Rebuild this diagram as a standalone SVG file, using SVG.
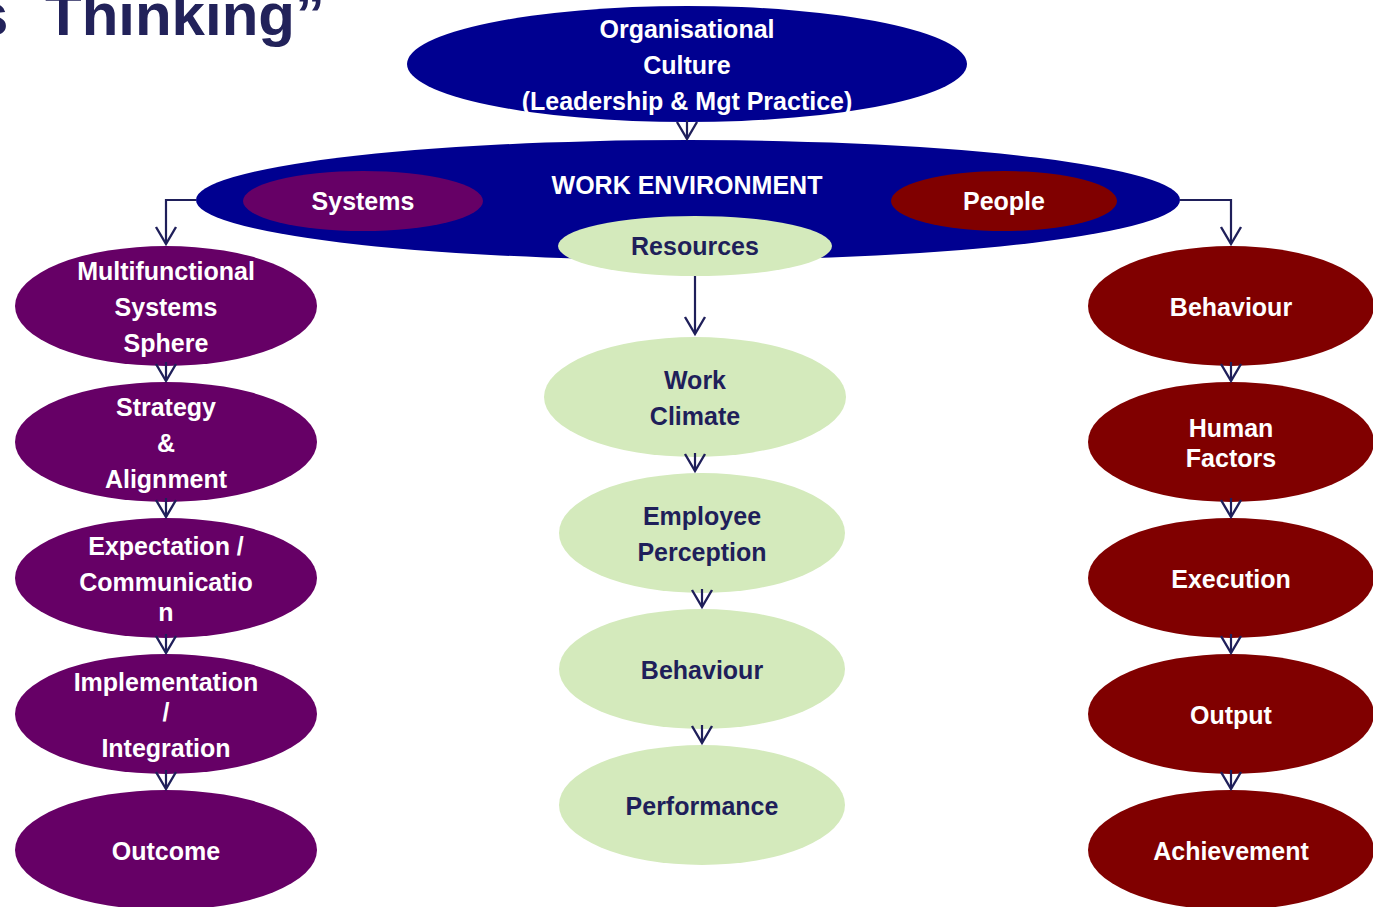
<svg xmlns="http://www.w3.org/2000/svg" width="1373" height="907" viewBox="0 0 1373 907">
<style>
text{font-family:"Liberation Sans",Arial,sans-serif;font-weight:bold;font-size:25px;text-anchor:middle}
.w{fill:#ffffff}
.d{fill:#1f1f5a}
.blue{fill:#000090}
.pur{fill:#660066}
.red{fill:#800000}
.grn{fill:#d4eabc}
.c{fill:none;stroke:#1f1f5a;stroke-width:2.2}
</style>
<defs>
<marker id="v" markerUnits="userSpaceOnUse" markerWidth="40" markerHeight="40" refX="0" refY="0" viewBox="-20 -20 40 40" orient="auto" overflow="visible">
<path d="M-17,-10 L0,0 L-17,10" fill="none" stroke="#1f1f5a" stroke-width="2.4"/>
</marker>
</defs>
<rect width="1373" height="907" fill="#ffffff"/>
<text x="0" y="35" style="font-size:60px;text-anchor:start;fill:#22225a"><tspan x="-25">s</tspan><tspan x="45">Thinking”</tspan></text>

<g id="culture">
<ellipse class="blue" cx="687" cy="64" rx="280" ry="58"/>
<text class="w" x="687" y="38">Organisational</text>
<text class="w" x="687" y="74">Culture</text>
<text class="w" x="687" y="110">(Leadership &amp; Mgt Practice)</text>
</g>
<g id="work-environment">
<ellipse class="blue" cx="688" cy="200" rx="492" ry="60"/>
<text class="w" x="687" y="194">WORK ENVIRONMENT</text>
</g>
<g id="systems">
<ellipse class="pur" cx="363" cy="201" rx="120" ry="30"/>
<text class="w" x="363" y="210">Systems</text>
</g>
<g id="people">
<ellipse class="red" cx="1004" cy="201" rx="113" ry="30"/>
<text class="w" x="1004" y="210">People</text>
</g>
<g id="resources">
<ellipse class="grn" cx="695" cy="246" rx="137" ry="30"/>
<text class="d" x="695" y="255">Resources</text>
</g>

<g id="multifunctional">
<ellipse class="pur" cx="166" cy="306" rx="151" ry="60"/>
<text class="w" x="166" y="280">Multifunctional</text>
<text class="w" x="166" y="316">Systems</text>
<text class="w" x="166" y="352">Sphere</text>
</g>
<g id="strategy">
<ellipse class="pur" cx="166" cy="442" rx="151" ry="60"/>
<text class="w" x="166" y="416">Strategy</text>
<text class="w" x="166" y="452">&amp;</text>
<text class="w" x="166" y="488">Alignment</text>
</g>
<g id="expectation">
<ellipse class="pur" cx="166" cy="578" rx="151" ry="60"/>
<text class="w" x="166" y="555">Expectation /</text>
<text class="w" x="166" y="591">Communicatio</text>
<text class="w" x="166" y="621">n</text>
</g>
<g id="implementation">
<ellipse class="pur" cx="166" cy="714" rx="151" ry="60"/>
<text class="w" x="166" y="691">Implementation</text>
<text class="w" x="166" y="721">/</text>
<text class="w" x="166" y="757">Integration</text>
</g>
<g id="outcome">
<ellipse class="pur" cx="166" cy="850" rx="151" ry="60"/>
<text class="w" x="166" y="860">Outcome</text>
</g>

<g id="work-climate">
<ellipse class="grn" cx="695" cy="397" rx="151" ry="60"/>
<text class="d" x="695" y="389">Work</text>
<text class="d" x="695" y="425">Climate</text>
</g>
<g id="employee-perception">
<ellipse class="grn" cx="702" cy="533" rx="143" ry="60"/>
<text class="d" x="702" y="525">Employee</text>
<text class="d" x="702" y="561">Perception</text>
</g>
<g id="behaviour-mid">
<ellipse class="grn" cx="702" cy="669" rx="143" ry="60"/>
<text class="d" x="702" y="679">Behaviour</text>
</g>
<g id="performance">
<ellipse class="grn" cx="702" cy="805" rx="143" ry="60"/>
<text class="d" x="702" y="815">Performance</text>
</g>

<g id="behaviour-right">
<ellipse class="red" cx="1231" cy="306" rx="143" ry="60"/>
<text class="w" x="1231" y="316">Behaviour</text>
</g>
<g id="human-factors">
<ellipse class="red" cx="1231" cy="442" rx="143" ry="60"/>
<text class="w" x="1231" y="437">Human</text>
<text class="w" x="1231" y="467">Factors</text>
</g>
<g id="execution">
<ellipse class="red" cx="1231" cy="578" rx="143" ry="60"/>
<text class="w" x="1231" y="588">Execution</text>
</g>
<g id="output">
<ellipse class="red" cx="1231" cy="714" rx="143" ry="60"/>
<text class="w" x="1231" y="724">Output</text>
</g>
<g id="achievement">
<ellipse class="red" cx="1231" cy="850" rx="143" ry="60"/>
<text class="w" x="1231" y="860">Achievement</text>
</g>

<g id="connectors">
<path class="c" d="M687,120 V139" marker-end="url(#v)"/>
<path class="c" d="M196,200 H166 V244" marker-end="url(#v)"/>
<path class="c" d="M1180,200 H1231 V244" marker-end="url(#v)"/>
<path class="c" d="M695,276 V334" marker-end="url(#v)"/>
<path class="c" d="M166,362 V381" marker-end="url(#v)"/>
<path class="c" d="M166,498 V517" marker-end="url(#v)"/>
<path class="c" d="M166,634 V653" marker-end="url(#v)"/>
<path class="c" d="M166,770 V789" marker-end="url(#v)"/>
<path class="c" d="M1231,362 V381" marker-end="url(#v)"/>
<path class="c" d="M1231,498 V517" marker-end="url(#v)"/>
<path class="c" d="M1231,634 V653" marker-end="url(#v)"/>
<path class="c" d="M1231,770 V789" marker-end="url(#v)"/>
<path class="c" d="M695,453 V471" marker-end="url(#v)"/>
<path class="c" d="M702,589 V607" marker-end="url(#v)"/>
<path class="c" d="M702,725 V743" marker-end="url(#v)"/>
</g>
</svg>
